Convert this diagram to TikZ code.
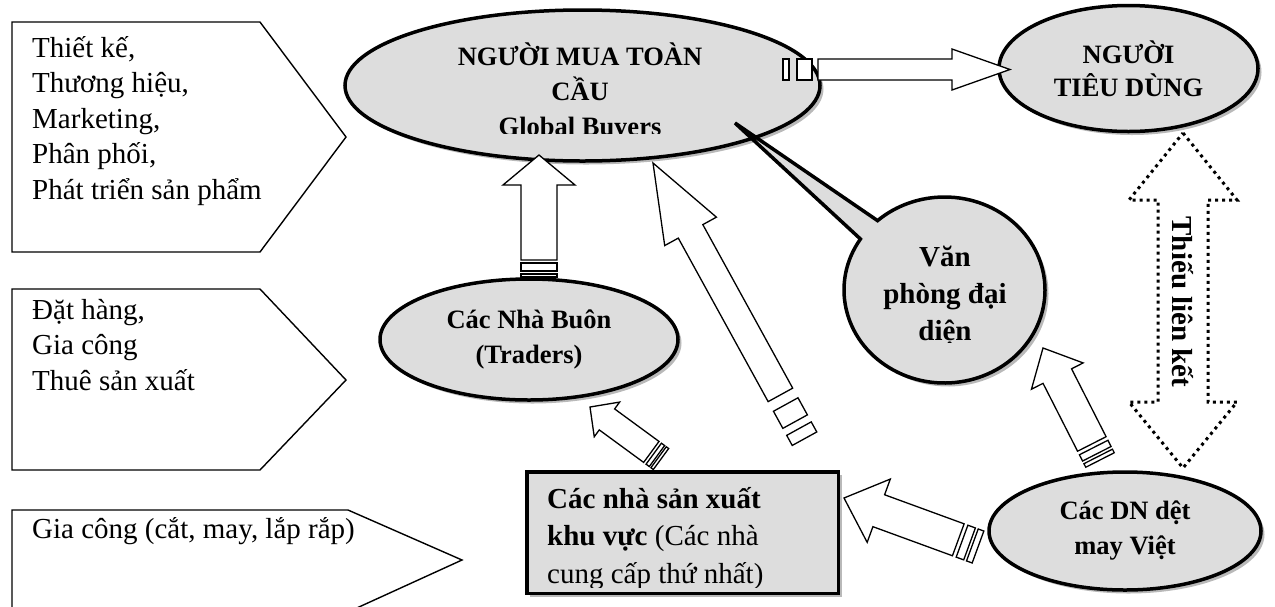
\documentclass[tikz,border=0pt]{standalone}
\usepackage{fontspec}
\setmainfont{Liberation Serif}
\usetikzlibrary{positioning,shapes.geometric,shapes.callouts,shadows,calc}

\definecolor{bubblegray}{RGB}{221,221,221}

% striped block arrow: tail, tip, half shaft, half head, head length, stripes, shaft start
\newcommand{\stripearrow}[7]{%
  \coordinate (sa-h) at ($(#2)!#5!(#1)$);
  \coordinate (sa-s) at ($(#1)!#7!(#2)$);
  \draw[blockarrow] ($(sa-s)!#3!90:(#2)$) -- ($(sa-h)!#3!90:(#2)$) -- ($(sa-h)!#4!90:(#2)$) -- (#2)
    -- ($(sa-h)!#4!-90:(#2)$) -- ($(sa-h)!#3!-90:(#2)$) -- ($(sa-s)!#3!-90:(#2)$) -- cycle;
  \foreach \sa/\sb in {#6} {
    \coordinate (sa-p) at ($(#1)!\sa!(#2)$);
    \coordinate (sa-q) at ($(#1)!\sb!(#2)$);
    \draw[blockarrow] ($(sa-p)!#3!90:(#2)$) -- ($(sa-q)!#3!90:(#2)$)
      -- ($(sa-q)!#3!-90:(#2)$) -- ($(sa-p)!#3!-90:(#2)$) -- cycle;
  }%
}

\begin{document}
\begin{tikzpicture}[
    x=1pt, y=-1pt,
    bubble/.style={ellipse, draw, line width=3.5pt, fill=bubblegray, inner sep=0pt,
                   drop shadow={shadow xshift=3.5pt, shadow yshift=-3.5pt, fill=gray!55, opacity=1}},
    headfont/.style={font=\fontsize{26.5}{35}\selectfont\bfseries, align=center},
    bigbold/.style={font=\fontsize{29}{37}\selectfont\bfseries, align=center},
    tagtext/.style={font=\fontsize{29}{35.5}\selectfont, align=left, inner sep=0pt},
    tag/.style={draw, line width=1.4pt, line join=miter},
    blockarrow/.style={draw, fill=white, line width=1.3pt, line join=miter},
    linkarrow/.style={draw, line width=3pt, dash pattern=on 3pt off 4pt}
]
\useasboundingbox (0,0) rectangle (1275,606);

% Left column: activity tags (text anchored on last baseline)
\draw[tag] (12,22) -- (260,22) -- (346,137) -- (260,252) -- (12,252) -- cycle;
\draw[tag] (12,289) -- (260,289) -- (346,380) -- (260,470) -- (12,470) -- cycle;
\draw[tag] (12,612) -- (12,510) -- (348,510) -- (462,560) -- (348,612);
\node[tagtext, anchor=base west] (design) at (32,199)
    {Thiết kế,\\Thương hiệu,\\Marketing,\\Phân phối,\\Phát triển sản phẩm};
\node[tagtext, anchor=base west] (order) at (32,390) {Đặt hàng,\\Gia công\\Thuê sản xuất};
\node[tagtext, anchor=base west] (cmt) at (32,538) {Gia công (cắt, may, lắp rắp)};

% Buyers and consumers
\node[bubble, minimum width=475pt, minimum height=151pt] (buyers) at (582.5,85.5) {};
\begin{scope}
  \clip (300,0) rectangle (850,133);
  \node[headfont, anchor=base] (buyers-text) at (580,135) {NGƯỜI MUA TOÀN\\CẦU\\Global Buyers};
\end{scope}
\node[bubble, headfont, font=\fontsize{26.5}{33}\selectfont\bfseries,
      minimum width=259pt, minimum height=126pt] (consumer) at (1128.5,68.5) {NGƯỜI\\TIÊU DÙNG};

% Intermediaries
\node[bubble, headfont, minimum width=298pt, minimum height=121pt] (traders) at (529,339.5)
    {Các Nhà Buôn\\(Traders)};
\coordinate (office-tip) at (735,123);
\node[bubble, ellipse callout, callout absolute pointer={(office-tip)}, callout pointer arc=15,
      minimum width=201pt, minimum height=186pt] (office) at (944.5,290) {};
\begin{scope}
  \clip (800,190) rectangle (1100,342);
  \node[bigbold, anchor=base] (office-text) at (945,340) {Văn\\phòng đại\\diện};
\end{scope}

% Producers
\node[bubble, headfont, minimum width=272pt, minimum height=118pt] (vndn) at (1125,531)
    {Các DN dệt\\may Việt};
\node[draw, line width=3.5pt, fill=bubblegray, minimum width=311.5pt, minimum height=121.5pt,
      drop shadow={shadow xshift=3.5pt, shadow yshift=-3.5pt, fill=gray!55, opacity=1}]
    (makers) at (682.5,532.5) {};
\begin{scope}
  \clip (530,470) rectangle (840,587);
  \node[tagtext, font=\fontsize{29}{37.5}\selectfont, anchor=base west] (makers-text) at (547,583)
      {\textbf{Các nhà sản xuất}\\\textbf{khu vực} (Các nhà\\cung cấp thứ nhất)};
\end{scope}

% Flows
\coordinate (tr-out) at (539,277);    \coordinate (buy-in1) at (539,155);
\coordinate (mk-out1) at (804.5,438.7); \coordinate (buy-in2) at (653,163);
\coordinate (mk-out2) at (661,459);   \coordinate (tr-in) at (590,407);
\coordinate (dn-out1) at (1100,460);  \coordinate (of-in) at (1043,348);
\coordinate (dn-out2) at (978,547);   \coordinate (mk-in) at (844,498);
\coordinate (buy-out) at (783,69.5);  \coordinate (con-in) at (1010,69.5);
\stripearrow{tr-out}{buy-in1}{18pt}{36pt}{30pt}{0pt/3pt,6pt/14pt}{17pt}
\stripearrow{mk-out1}{buy-in2}{14pt}{29.5pt}{78pt}{0pt/11.5pt,19.5pt/39pt}{50pt}
\stripearrow{mk-out2}{tr-in}{13pt}{21.5pt}{21pt}{0pt/3pt,5pt/9pt}{12pt}
\stripearrow{dn-out1}{of-in}{16pt}{29pt}{31.5pt}{0pt/4pt,7pt/14pt}{18pt}
\stripearrow{dn-out2}{mk-in}{17pt}{33.7pt}{37pt}{0pt/6pt,9pt/17pt}{21pt}
\stripearrow{buy-out}{con-in}{10.5pt}{20.5pt}{58pt}{0pt/6pt,14pt/29pt}{35pt}

% Missing link
\coordinate (link-top) at (1183,133);
\coordinate (link-bot) at (1183,468);
\draw[linkarrow] (link-top) -- ($(link-top)+(54,67)$) -- ($(link-top)+(25,67)$)
    -- ($(link-bot)+(25,-66)$) -- ($(link-bot)+(54,-66)$) -- (link-bot)
    -- ($(link-bot)+(-54,-66)$) -- ($(link-bot)+(-25,-66)$)
    -- ($(link-top)+(-25,67)$) -- ($(link-top)+(-54,67)$) -- cycle;
\node[bigbold, rotate=-90] (link-label) at (1183,302) {Thiếu liên kết};

\end{tikzpicture}
\end{document}
